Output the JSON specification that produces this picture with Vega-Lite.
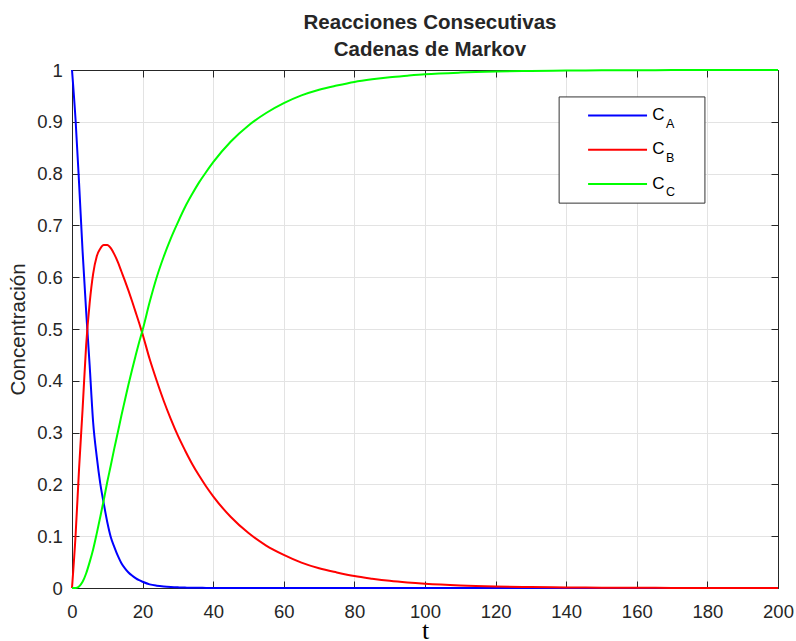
{
  "$schema": "https://vega.github.io/schema/vega-lite/v6.json",
  "width": 706,
  "height": 518,
  "autosize": {"type": "none"},
  "padding": {"left": 72, "top": 70, "right": 18, "bottom": 53},
  "background": "white",
  "title": {
    "text": ["Reacciones Consecutivas", "Cadenas de Markov"],
    "font": "Liberation Sans",
    "fontSize": 20.5,
    "fontWeight": "bold",
    "color": "#262626",
    "lineHeight": 27.3,
    "anchor": "middle",
    "offset": 0,
    "dx": 5
  },
  "config": {
    "view": {"stroke": null},
    "axis": {
      "domainColor": "#262626",
      "tickColor": "#262626",
      "labelColor": "#262626",
      "labelFont": "Liberation Sans",
      "titleFont": "Liberation Sans",
      "labelFlush": false
    }
  },
  "data": {
    "values": [
      {"t": 0, "serie": "CA", "c": 1}, {"t": 0, "serie": "CB", "c": 0}, {"t": 0, "serie": "CC", "c": 0},
      {"t": 1, "serie": "CA", "c": 0.905}, {"t": 1, "serie": "CB", "c": 0.1}, {"t": 1, "serie": "CC", "c": 0},
      {"t": 2, "serie": "CA", "c": 0.782}, {"t": 2, "serie": "CB", "c": 0.23}, {"t": 2, "serie": "CC", "c": 0.003},
      {"t": 3, "serie": "CA", "c": 0.65}, {"t": 3, "serie": "CB", "c": 0.345}, {"t": 3, "serie": "CC", "c": 0.012},
      {"t": 4, "serie": "CA", "c": 0.535}, {"t": 4, "serie": "CB", "c": 0.468}, {"t": 4, "serie": "CC", "c": 0.028},
      {"t": 5, "serie": "CA", "c": 0.43}, {"t": 5, "serie": "CB", "c": 0.55}, {"t": 5, "serie": "CC", "c": 0.05},
      {"t": 6, "serie": "CA", "c": 0.319}, {"t": 6, "serie": "CB", "c": 0.607}, {"t": 6, "serie": "CC", "c": 0.075},
      {"t": 7, "serie": "CA", "c": 0.254}, {"t": 7, "serie": "CB", "c": 0.64}, {"t": 7, "serie": "CC", "c": 0.105},
      {"t": 8, "serie": "CA", "c": 0.202}, {"t": 8, "serie": "CB", "c": 0.655}, {"t": 8, "serie": "CC", "c": 0.137},
      {"t": 9, "serie": "CA", "c": 0.163}, {"t": 9, "serie": "CB", "c": 0.662}, {"t": 9, "serie": "CC", "c": 0.17},
      {"t": 10, "serie": "CA", "c": 0.127}, {"t": 10, "serie": "CB", "c": 0.662}, {"t": 10, "serie": "CC", "c": 0.205},
      {"t": 11, "serie": "CA", "c": 0.098}, {"t": 11, "serie": "CB", "c": 0.656}, {"t": 11, "serie": "CC", "c": 0.237},
      {"t": 12, "serie": "CA", "c": 0.079}, {"t": 12, "serie": "CB", "c": 0.644}, {"t": 12, "serie": "CC", "c": 0.27},
      {"t": 13, "serie": "CA", "c": 0.062}, {"t": 13, "serie": "CB", "c": 0.629}, {"t": 13, "serie": "CC", "c": 0.301},
      {"t": 14, "serie": "CA", "c": 0.048}, {"t": 14, "serie": "CB", "c": 0.611}, {"t": 14, "serie": "CC", "c": 0.333},
      {"t": 15, "serie": "CA", "c": 0.038}, {"t": 15, "serie": "CB", "c": 0.593}, {"t": 15, "serie": "CC", "c": 0.363},
      {"t": 16, "serie": "CA", "c": 0.03}, {"t": 16, "serie": "CB", "c": 0.574}, {"t": 16, "serie": "CC", "c": 0.393},
      {"t": 17, "serie": "CA", "c": 0.024}, {"t": 17, "serie": "CB", "c": 0.554}, {"t": 17, "serie": "CC", "c": 0.421},
      {"t": 18, "serie": "CA", "c": 0.019}, {"t": 18, "serie": "CB", "c": 0.533}, {"t": 18, "serie": "CC", "c": 0.448},
      {"t": 19, "serie": "CA", "c": 0.015}, {"t": 19, "serie": "CB", "c": 0.512}, {"t": 19, "serie": "CC", "c": 0.474},
      {"t": 20, "serie": "CA", "c": 0.012}, {"t": 20, "serie": "CB", "c": 0.49}, {"t": 20, "serie": "CC", "c": 0.498},
      {"t": 22, "serie": "CA", "c": 0.007}, {"t": 22, "serie": "CB", "c": 0.442}, {"t": 22, "serie": "CC", "c": 0.552},
      {"t": 24, "serie": "CA", "c": 0.0045}, {"t": 24, "serie": "CB", "c": 0.4}, {"t": 24, "serie": "CC", "c": 0.6},
      {"t": 26, "serie": "CA", "c": 0.003}, {"t": 26, "serie": "CB", "c": 0.361}, {"t": 26, "serie": "CC", "c": 0.64},
      {"t": 28, "serie": "CA", "c": 0.002}, {"t": 28, "serie": "CB", "c": 0.326}, {"t": 28, "serie": "CC", "c": 0.675},
      {"t": 30, "serie": "CA", "c": 0.0013}, {"t": 30, "serie": "CB", "c": 0.294}, {"t": 30, "serie": "CC", "c": 0.706},
      {"t": 32, "serie": "CA", "c": 0.0008}, {"t": 32, "serie": "CB", "c": 0.266}, {"t": 32, "serie": "CC", "c": 0.735},
      {"t": 34, "serie": "CA", "c": 0.0005}, {"t": 34, "serie": "CB", "c": 0.24}, {"t": 34, "serie": "CC", "c": 0.76},
      {"t": 36, "serie": "CA", "c": 0.0003}, {"t": 36, "serie": "CB", "c": 0.217}, {"t": 36, "serie": "CC", "c": 0.783},
      {"t": 38, "serie": "CA", "c": 0.0002}, {"t": 38, "serie": "CB", "c": 0.196}, {"t": 38, "serie": "CC", "c": 0.803},
      {"t": 40, "serie": "CA", "c": 0.0001}, {"t": 40, "serie": "CB", "c": 0.177}, {"t": 40, "serie": "CC", "c": 0.822},
      {"t": 45, "serie": "CA", "c": 0}, {"t": 45, "serie": "CB", "c": 0.137}, {"t": 45, "serie": "CC", "c": 0.862},
      {"t": 50, "serie": "CA", "c": 0}, {"t": 50, "serie": "CB", "c": 0.106}, {"t": 50, "serie": "CC", "c": 0.893},
      {"t": 55, "serie": "CA", "c": 0}, {"t": 55, "serie": "CB", "c": 0.082}, {"t": 55, "serie": "CC", "c": 0.917},
      {"t": 60, "serie": "CA", "c": 0}, {"t": 60, "serie": "CB", "c": 0.064}, {"t": 60, "serie": "CC", "c": 0.936},
      {"t": 65, "serie": "CA", "c": 0}, {"t": 65, "serie": "CB", "c": 0.049}, {"t": 65, "serie": "CC", "c": 0.951},
      {"t": 70, "serie": "CA", "c": 0}, {"t": 70, "serie": "CB", "c": 0.038}, {"t": 70, "serie": "CC", "c": 0.962},
      {"t": 75, "serie": "CA", "c": 0}, {"t": 75, "serie": "CB", "c": 0.03}, {"t": 75, "serie": "CC", "c": 0.97},
      {"t": 80, "serie": "CA", "c": 0}, {"t": 80, "serie": "CB", "c": 0.023}, {"t": 80, "serie": "CC", "c": 0.977},
      {"t": 85, "serie": "CA", "c": 0}, {"t": 85, "serie": "CB", "c": 0.018}, {"t": 85, "serie": "CC", "c": 0.982},
      {"t": 90, "serie": "CA", "c": 0}, {"t": 90, "serie": "CB", "c": 0.0138}, {"t": 90, "serie": "CC", "c": 0.986},
      {"t": 95, "serie": "CA", "c": 0}, {"t": 95, "serie": "CB", "c": 0.0107}, {"t": 95, "serie": "CC", "c": 0.989},
      {"t": 100, "serie": "CA", "c": 0}, {"t": 100, "serie": "CB", "c": 0.0083}, {"t": 100, "serie": "CC", "c": 0.9917},
      {"t": 110, "serie": "CA", "c": 0}, {"t": 110, "serie": "CB", "c": 0.005}, {"t": 110, "serie": "CC", "c": 0.995},
      {"t": 120, "serie": "CA", "c": 0}, {"t": 120, "serie": "CB", "c": 0.003}, {"t": 120, "serie": "CC", "c": 0.997},
      {"t": 130, "serie": "CA", "c": 0}, {"t": 130, "serie": "CB", "c": 0.0018}, {"t": 130, "serie": "CC", "c": 0.9982},
      {"t": 140, "serie": "CA", "c": 0}, {"t": 140, "serie": "CB", "c": 0.0011}, {"t": 140, "serie": "CC", "c": 0.9989},
      {"t": 150, "serie": "CA", "c": 0}, {"t": 150, "serie": "CB", "c": 0.00065}, {"t": 150, "serie": "CC", "c": 0.99935},
      {"t": 160, "serie": "CA", "c": 0}, {"t": 160, "serie": "CB", "c": 0.0004}, {"t": 160, "serie": "CC", "c": 0.9996},
      {"t": 170, "serie": "CA", "c": 0}, {"t": 170, "serie": "CB", "c": 0.00023}, {"t": 170, "serie": "CC", "c": 0.99977},
      {"t": 180, "serie": "CA", "c": 0}, {"t": 180, "serie": "CB", "c": 0.00014}, {"t": 180, "serie": "CC", "c": 0.99986},
      {"t": 190, "serie": "CA", "c": 0}, {"t": 190, "serie": "CB", "c": 0.00008}, {"t": 190, "serie": "CC", "c": 0.99992},
      {"t": 200, "serie": "CA", "c": 0}, {"t": 200, "serie": "CB", "c": 0.00005}, {"t": 200, "serie": "CC", "c": 0.99995}
    ]
  },
  "resolve": {"axis": {"x": "independent", "y": "independent"}},
  "layer": [
    {
      "mark": {"type": "line", "strokeWidth": 2, "interpolate": "monotone"},
      "encoding": {
        "x": {
          "field": "t", "type": "quantitative",
          "scale": {"domain": [0, 200], "nice": false, "zero": false},
          "axis": {
            "orient": "bottom",
            "values": [0, 20, 40, 60, 80, 100, 120, 140, 160, 180, 200],
            "format": "d",
            "grid": true, "gridColor": "#e3e3e3", "gridWidth": 1,
            "tickSize": -7, "tickWidth": 1,
            "labelFontSize": 18.5, "labelPadding": 21.6,
            "title": "t",
            "titleFont": "Liberation Serif", "titleFontSize": 26, "titleFontWeight": "normal",
            "titleColor": "#000000", "titlePadding": -4
          }
        },
        "y": {
          "field": "c", "type": "quantitative",
          "scale": {"domain": [0, 1], "nice": false},
          "axis": {
            "orient": "left",
            "values": [0, 0.1, 0.2, 0.3, 0.4, 0.5, 0.6, 0.7, 0.8, 0.9, 1],
            "format": "~g",
            "grid": true, "gridColor": "#e3e3e3", "gridWidth": 1,
            "tickSize": -7, "tickWidth": 1,
            "labelFontSize": 18.5, "labelPadding": 16.6,
            "title": "Concentración",
            "titleFontSize": 20.5, "titleFontWeight": "normal",
            "titleColor": "#262626", "titlePadding": 8
          }
        },
        "color": {
          "field": "serie", "type": "nominal",
          "scale": {"domain": ["CA", "CB", "CC"], "range": ["#0000ff", "#ff0000", "#00ff00"]},
          "legend": null
        }
      }
    },
    {
      "data": {"values": [{}]},
      "mark": {"type": "rect", "fill": "white", "stroke": "#333333", "strokeWidth": 1},
      "encoding": {
        "x": {"datum": 138, "type": "quantitative",
          "axis": {"orient": "top", "values": [0, 20, 40, 60, 80, 100, 120, 140, 160, 180, 200], "labels": false, "grid": false, "tickSize": -7, "title": null}},
        "x2": {"datum": 179.3},
        "y": {"datum": 0.948, "type": "quantitative",
          "axis": {"orient": "right", "values": [0, 0.1, 0.2, 0.3, 0.4, 0.5, 0.6, 0.7, 0.8, 0.9, 1], "labels": false, "grid": false, "tickSize": -7, "title": null}},
        "y2": {"datum": 0.743}
      }
    },
    {
      "data": {"values": [{}]},
      "mark": {"type": "rule", "color": "#0000ff", "strokeWidth": 2},
      "encoding": {
        "x": {"datum": 146.2, "type": "quantitative", "axis": null},
        "x2": {"datum": 162.9},
        "y": {"datum": 0.912, "type": "quantitative", "axis": null}
      }
    },
    {
      "data": {"values": [{}]},
      "mark": {"type": "rule", "color": "#ff0000", "strokeWidth": 2},
      "encoding": {
        "x": {"datum": 146.2, "type": "quantitative", "axis": null},
        "x2": {"datum": 162.9},
        "y": {"datum": 0.846, "type": "quantitative", "axis": null}
      }
    },
    {
      "data": {"values": [{}]},
      "mark": {"type": "rule", "color": "#00ff00", "strokeWidth": 2},
      "encoding": {
        "x": {"datum": 146.2, "type": "quantitative", "axis": null},
        "x2": {"datum": 162.9},
        "y": {"datum": 0.78, "type": "quantitative", "axis": null}
      }
    },
    {
      "data": {"values": [{}]},
      "mark": {"type": "text", "text": "C", "font": "Liberation Sans", "fontSize": 17, "align": "left", "baseline": "alphabetic", "color": "#000000"},
      "encoding": {
        "x": {"datum": 164.4, "type": "quantitative", "axis": null},
        "y": {"datum": 0.903, "type": "quantitative", "axis": null}
      }
    },
    {
      "data": {"values": [{}]},
      "mark": {"type": "text", "text": "C", "font": "Liberation Sans", "fontSize": 17, "align": "left", "baseline": "alphabetic", "color": "#000000"},
      "encoding": {
        "x": {"datum": 164.4, "type": "quantitative", "axis": null},
        "y": {"datum": 0.837, "type": "quantitative", "axis": null}
      }
    },
    {
      "data": {"values": [{}]},
      "mark": {"type": "text", "text": "C", "font": "Liberation Sans", "fontSize": 17, "align": "left", "baseline": "alphabetic", "color": "#000000"},
      "encoding": {
        "x": {"datum": 164.4, "type": "quantitative", "axis": null},
        "y": {"datum": 0.771, "type": "quantitative", "axis": null}
      }
    },
    {
      "data": {"values": [{}]},
      "mark": {"type": "text", "text": "A", "font": "Liberation Sans", "fontSize": 12.5, "align": "left", "baseline": "alphabetic", "color": "#000000"},
      "encoding": {
        "x": {"datum": 168.3, "type": "quantitative", "axis": null},
        "y": {"datum": 0.888, "type": "quantitative", "axis": null}
      }
    },
    {
      "data": {"values": [{}]},
      "mark": {"type": "text", "text": "B", "font": "Liberation Sans", "fontSize": 12.5, "align": "left", "baseline": "alphabetic", "color": "#000000"},
      "encoding": {
        "x": {"datum": 168.3, "type": "quantitative", "axis": null},
        "y": {"datum": 0.822, "type": "quantitative", "axis": null}
      }
    },
    {
      "data": {"values": [{}]},
      "mark": {"type": "text", "text": "C", "font": "Liberation Sans", "fontSize": 12.5, "align": "left", "baseline": "alphabetic", "color": "#000000"},
      "encoding": {
        "x": {"datum": 168.3, "type": "quantitative", "axis": null},
        "y": {"datum": 0.756, "type": "quantitative", "axis": null}
      }
    }
  ]
}
